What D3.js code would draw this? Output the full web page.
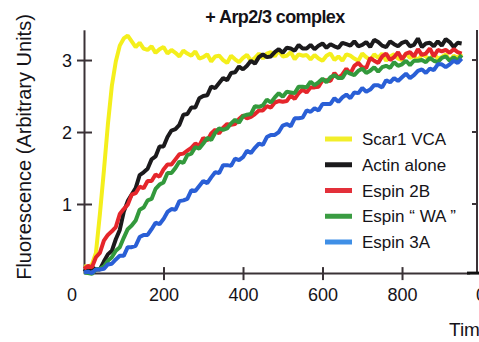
<!DOCTYPE html>
<html>
<head>
<meta charset="utf-8">
<script src="https://cdn.jsdelivr.net/npm/d3@7"></script>
<style>
  html, body { margin: 0; padding: 0; background: #fff; }
  svg { display: block; }
  text { font-family: "Liberation Sans", Arial, sans-serif; fill: #151318; }
</style>
</head>
<body>
<svg id="chart" width="479" height="342"></svg>
<script>
// Pyrene-actin polymerization time course (+ Arp2/3 complex), sampled every 10 s
const times = [0,10,20,30,40,50,60,70,80,90,100,110,120,130,140,150,160,170,180,190,
  200,210,220,230,240,250,260,270,280,290,300,310,320,330,340,350,360,370,380,390,
  400,410,420,430,440,450,460,470,480,490,500,510,520,530,540,550,560,570,580,590,
  600,610,620,630,640,650,660,670,680,690,700,710,720,730,740,750,760,770,780,790,
  800,810,820,830,840,850,860,870,880,890,900,910,920,930,940,950];

const scar1VCA = [0.14,0.12,0.16,0.32,0.86,1.46,2.10,2.64,2.98,3.20,3.30,3.34,
  3.26,3.18,3.24,3.16,3.14,3.19,3.10,3.15,
  3.18,3.09,3.14,3.10,3.05,3.13,3.09,3.06,3.12,3.02,
  3.04,3.08,2.98,3.05,3.06,3.00,2.96,3.06,3.01,2.97,
  3.03,3.07,2.99,3.03,3.09,3.02,3.09,3.11,3.05,3.13,
  3.05,3.06,3.11,3.01,3.08,3.06,3.07,3.01,3.07,3.02,
  2.99,3.06,3.09,3.00,3.05,2.99,3.08,3.06,3.02,2.99,
  3.09,3.04,3.00,3.08,3.03,3.09,2.99,3.05,3.08,3.02,
  3.00,3.09,3.03,3.06,2.99,3.08,3.05,3.00,3.09,3.02,
  3.04,3.08,2.99,3.06,3.03,3.09];

const actinAlone = [0.10,0.06,0.12,0.09,0.09,0.20,0.30,0.35,0.51,0.64,
  0.89,1.04,1.13,1.22,1.40,1.44,1.49,1.62,1.66,1.80,
  1.80,1.93,2.02,2.04,2.10,2.24,2.25,2.34,2.34,2.47,
  2.50,2.51,2.63,2.61,2.68,2.75,2.72,2.82,2.83,2.91,
  2.87,2.92,2.99,2.95,3.04,3.08,3.04,3.05,3.11,3.15,
  3.10,3.17,3.16,3.13,3.21,3.16,3.16,3.21,3.15,3.20,
  3.23,3.17,3.22,3.19,3.17,3.24,3.22,3.20,3.26,3.19,
  3.21,3.25,3.18,3.28,3.25,3.20,3.18,3.26,3.22,3.19,
  3.24,3.26,3.19,3.21,3.30,3.18,3.23,3.24,3.19,3.26,
  3.20,3.29,3.25,3.18,3.24,3.23];

const espin2B = [0.10,0.14,0.12,0.26,0.32,0.49,0.57,0.62,0.68,0.86,
  0.93,0.99,1.13,1.15,1.24,1.22,1.32,1.32,1.41,1.38,
  1.48,1.55,1.55,1.62,1.69,1.70,1.74,1.78,1.84,1.81,
  1.92,1.88,1.98,2.03,1.98,2.06,2.11,2.10,2.11,2.18,
  2.23,2.19,2.21,2.25,2.30,2.30,2.36,2.34,2.41,2.43,
  2.42,2.43,2.51,2.46,2.54,2.59,2.55,2.62,2.62,2.63,
  2.72,2.72,2.71,2.82,2.75,2.80,2.88,2.81,2.92,2.96,
  2.90,2.89,3.03,2.99,2.96,3.05,3.09,3.00,3.04,3.11,
  3.01,3.09,3.11,3.05,3.15,3.07,3.09,3.16,3.05,3.14,
  3.12,3.14,3.10,3.15,3.11,3.09];

const espinWA = [0.05,0.04,0.03,0.09,0.10,0.13,0.21,0.26,0.35,0.40,
  0.53,0.65,0.70,0.77,0.92,0.95,1.05,1.07,1.21,1.27,
  1.30,1.43,1.43,1.50,1.59,1.57,1.68,1.70,1.79,1.77,
  1.84,1.92,1.89,1.99,2.05,2.03,2.05,2.12,2.17,2.13,
  2.22,2.24,2.25,2.36,2.35,2.37,2.45,2.41,2.48,2.54,
  2.49,2.56,2.55,2.54,2.63,2.63,2.62,2.70,2.65,2.69,
  2.74,2.69,2.76,2.79,2.75,2.75,2.84,2.81,2.79,2.85,
  2.88,2.82,2.85,2.90,2.84,2.90,2.92,2.89,2.97,2.92,
  2.94,2.99,2.93,2.99,2.99,3.00,2.97,3.03,2.99,2.97,
  3.03,3.05,2.99,3.04,2.99,3.07];

const espin3A = [0.05,0.06,0.04,0.09,0.09,0.10,0.16,0.17,0.23,0.28,
  0.28,0.40,0.40,0.42,0.54,0.57,0.57,0.65,0.74,0.72,
  0.79,0.89,0.93,0.92,1.04,1.05,1.07,1.19,1.18,1.25,
  1.32,1.29,1.37,1.44,1.43,1.54,1.54,1.53,1.63,1.61,
  1.65,1.74,1.71,1.78,1.84,1.82,1.93,1.96,1.96,2.00,
  2.09,2.11,2.08,2.19,2.19,2.20,2.30,2.28,2.33,2.30,
  2.39,2.39,2.39,2.47,2.42,2.48,2.52,2.47,2.55,2.54,
  2.61,2.56,2.59,2.65,2.65,2.62,2.72,2.69,2.75,2.71,
  2.76,2.81,2.75,2.79,2.85,2.87,2.82,2.88,2.86,2.94,
  2.94,2.90,2.94,2.99,2.96,3.02];

const seriesNames = ["Scar1 VCA", "Actin alone", "Espin 2B", "Espin \u201C WA \u201D", "Espin 3A"];
const seriesValues = [scar1VCA, actinAlone, espin2B, espinWA, espin3A];
const seriesColors = ["#f4ef1c", "#1b1a1c", "#e5262b", "#33993c", "#2a5fd6"];
const legendColors = ["#f2ee2a", "#1b1a1c", "#e3303a", "#3a9c42", "#3f8fe6"];

const xTicks = [200, 400, 600, 800];
const yTicks = [1, 2, 3];
const titleText = "+ Arp2/3 complex";
const yLabel = "Fluorescence (Arbitrary Units)";
const xLabel = "Time (sec)";

const svg = d3.select("#chart");
const axisColor = "#3a3236";
const font = "Liberation Sans, Arial, sans-serif";

const x = d3.scaleLinear().domain([0, 970]).range([84, 469.6]);
const y = d3.scaleLinear().domain([0.04, 3.42]).range([273.1, 29.8]);

// y axis with ticks crossing the spine
const yAxis = svg.append("g")
  .attr("transform", `translate(${x(0)},0)`)
  .call(d3.axisLeft(y).tickValues(yTicks).tickFormat(d3.format("d")).tickSizeOuter(0));
yAxis.select(".domain").attr("stroke", axisColor).attr("stroke-width", 2);
yAxis.selectAll(".tick line").attr("x1", -7).attr("x2", 8).attr("stroke", axisColor).attr("stroke-width", 2);
yAxis.selectAll(".tick text").attr("x", -12).attr("dy", "0.36em")
  .style("font-size", "18px").style("font-family", font).attr("fill", "#151318");

// x axis
const xAxis = svg.append("g")
  .attr("transform", `translate(0,${y.range()[0]})`)
  .call(d3.axisBottom(x).tickValues(xTicks).tickFormat(d3.format("d")).tickSizeOuter(0));
xAxis.select(".domain").attr("stroke", axisColor).attr("stroke-width", 2);
xAxis.selectAll(".tick line").attr("y1", -6).attr("y2", 7).attr("stroke", axisColor).attr("stroke-width", 2);
xAxis.selectAll(".tick text").attr("y", 28).attr("dy", 0)
  .style("font-size", "18px").style("font-family", font).attr("fill", "#151318");

// traces, drawn over the axes
const line = d3.line()
  .x((d, i) => x(times[i]))
  .y(d => y(d));

svg.append("g")
  .selectAll("path")
  .data(seriesValues)
  .join("path")
  .attr("d", d => line(d))
  .attr("fill", "none")
  .attr("stroke", (d, i) => seriesColors[i])
  .attr("stroke-width", 4)
  .attr("stroke-linejoin", "bevel")
  .attr("stroke-linecap", "butt");

// shared origin label
svg.append("text")
  .attr("x", 72).attr("y", y.range()[0] + 28)
  .attr("text-anchor", "middle")
  .style("font-size", "18px")
  .text("0");

// title
svg.append("text")
  .attr("x", 275).attr("y", 23)
  .attr("text-anchor", "middle")
  .style("font-size", "18px")
  .style("font-weight", "bold")
  .style("letter-spacing", "-0.6px")
  .text(titleText);

// y axis title
svg.append("text")
  .attr("transform", `translate(31,147) rotate(-90)`)
  .attr("text-anchor", "middle")
  .style("font-size", "20px")
  .text(yLabel);

// legend
const legend = svg.append("g");
const rowY = d3.scaleLinear().domain([0, 4]).range([139, 242]);
seriesNames.forEach((name, i) => {
  legend.append("line")
    .attr("x1", 325).attr("x2", 352)
    .attr("y1", rowY(i)).attr("y2", rowY(i))
    .attr("stroke", legendColors[i])
    .attr("stroke-width", 5);
  legend.append("text")
    .attr("x", 362).attr("y", rowY(i) + 6)
    .style("font-size", "17px")
    .attr("fill", "#2a2632")
    .text(name);
});

// edge of the neighbouring panel
const nb = svg.append("g");
nb.append("line")
  .attr("x1", 477).attr("x2", 477).attr("y1", 30).attr("y2", y.range()[0])
  .attr("stroke", axisColor).attr("stroke-width", 2);
yTicks.forEach(v => {
  nb.append("line")
    .attr("x1", 472).attr("x2", 477).attr("y1", y(v)).attr("y2", y(v))
    .attr("stroke", axisColor).attr("stroke-width", 2);
});
nb.append("line")
  .attr("x1", 467).attr("x2", 479).attr("y1", y.range()[0]).attr("y2", y.range()[0])
  .attr("stroke", "#111").attr("stroke-width", 3);
nb.append("text")
  .attr("x", 476).attr("y", y.range()[0] + 28)
  .style("font-size", "18px")
  .text("0");

// x axis title
svg.append("text")
  .attr("x", 449).attr("y", 336)
  .style("font-size", "19px")
  .text(xLabel);
</script>
</body>
</html>
